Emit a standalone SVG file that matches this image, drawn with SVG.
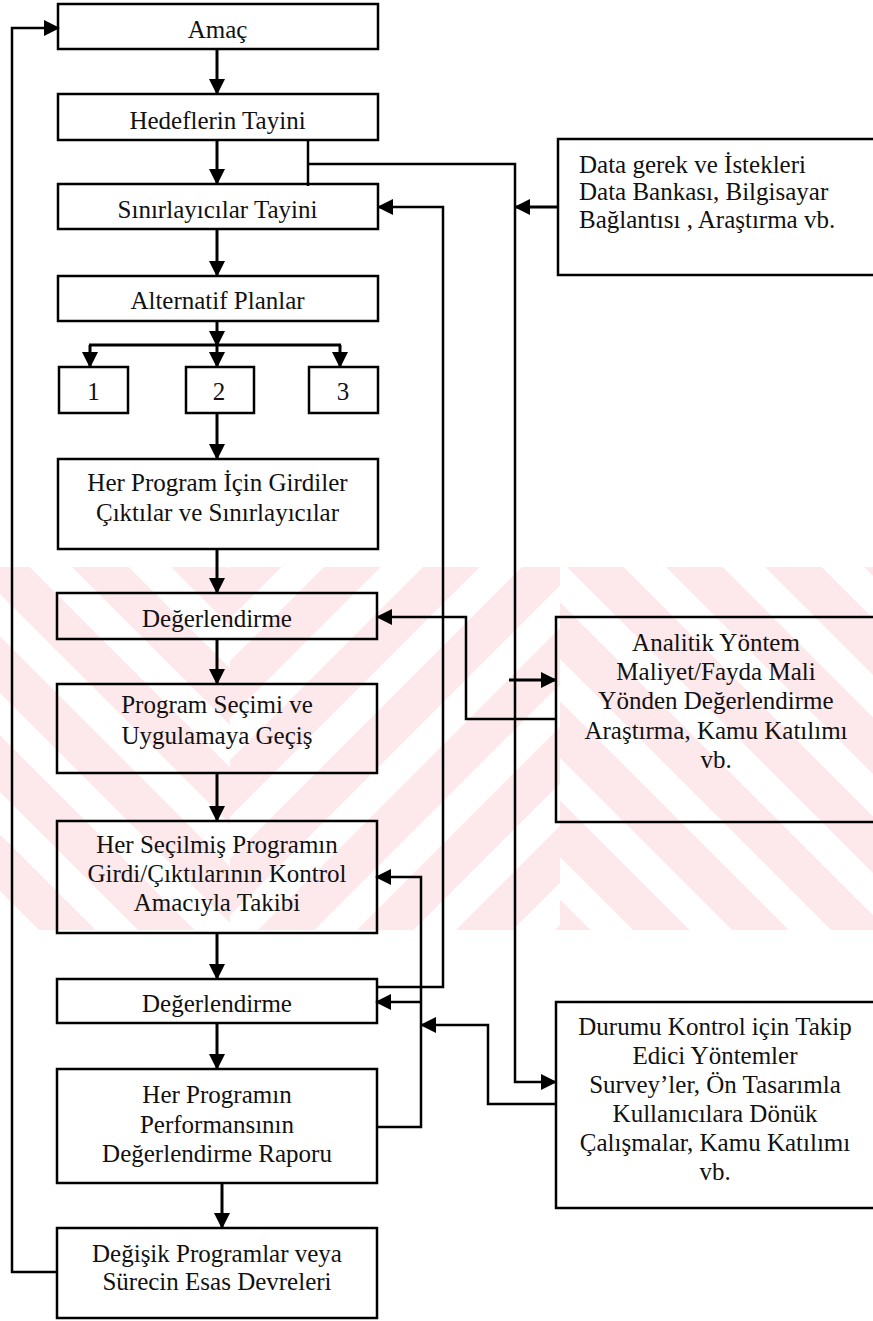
<svg xmlns="http://www.w3.org/2000/svg" width="873" height="1321" viewBox="0 0 873 1321">
<style>
.box{fill:none;stroke:#000;stroke-width:2.5}
.t{font-family:"Liberation Serif","Times New Roman",Tinos,serif;font-size:25px;fill:#111;text-anchor:middle}
.tl{text-anchor:start}
.c{fill:none;stroke:#000;stroke-width:3}
.c2{fill:none;stroke:#000;stroke-width:2.5}
.wm{stroke:none}
</style>
<defs>
<marker id="ah" markerUnits="userSpaceOnUse" markerWidth="16" markerHeight="16" refX="15" refY="8" orient="auto"><path d="M0,0 L16,8 L0,16 Z" fill="#000"/></marker>
<pattern id="wmA" patternUnits="userSpaceOnUse" width="70" height="70" patternTransform="rotate(45)"><rect width="40" height="70" fill="#fde8ec"/></pattern>
<pattern id="wmB" patternUnits="userSpaceOnUse" width="70" height="70" patternTransform="rotate(-45)"><rect width="40" height="70" fill="#fde8ec"/></pattern>
</defs>
<rect width="873" height="1321" fill="#fff"/>
<g id="watermark">
<rect class="wm" x="0" y="567" width="230" height="363" fill="url(#wmB)"/>
<rect class="wm" x="230" y="567" width="330" height="363" fill="url(#wmA)"/>
<rect class="wm" x="560" y="567" width="313" height="363" fill="url(#wmB)"/>
</g>
<g id="connectors">
<path class="c" d="M217,49 V94" marker-end="url(#ah)"/>
<path class="c" d="M217,140 V184" marker-end="url(#ah)"/>
<path class="c" d="M217,229 V276" marker-end="url(#ah)"/>
<path class="c" d="M217,321 V346" marker-end="url(#ah)"/>
<path class="c" d="M89,345 H341"/>
<path class="c" d="M90,345 V367" marker-end="url(#ah)"/>
<path class="c" d="M217,345 V367" marker-end="url(#ah)"/>
<path class="c" d="M340,345 V367" marker-end="url(#ah)"/>
<path class="c" d="M217,413 V459" marker-end="url(#ah)"/>
<path class="c" d="M217,549 V593" marker-end="url(#ah)"/>
<path class="c" d="M217,639 V684" marker-end="url(#ah)"/>
<path class="c" d="M217,773 V821" marker-end="url(#ah)"/>
<path class="c" d="M217,933 V979" marker-end="url(#ah)"/>
<path class="c" d="M217,1023 V1069" marker-end="url(#ah)"/>
<path class="c" d="M222,1183 V1228" marker-end="url(#ah)"/>
<path class="c2" d="M57,1272 H12 V28 H59" marker-end="url(#ah)"/>
<path class="c2" d="M377,987 H443 V207 H378" marker-end="url(#ah)"/>
<path class="c2" d="M308,140 V186"/>
<path class="c2" d="M308,164 H515 V1082 H556" marker-end="url(#ah)"/>
<path class="c" d="M509,680 H556" marker-end="url(#ah)"/>
<path class="c" d="M558,207 H515" marker-end="url(#ah)"/>
<path class="c2" d="M556,719 H466 V617 H377" marker-end="url(#ah)"/>
<path class="c2" d="M377,1127 H421 V877 H376" marker-end="url(#ah)"/>
<path class="c2" d="M421,1002 H376" marker-end="url(#ah)"/>
<path class="c2" d="M556,1104 H488 V1025 H421" marker-end="url(#ah)"/>
</g>
<g id="amac"><rect class="box" x="58" y="4" width="320" height="45"/><text class="t" x="217.5" y="38">Amaç</text></g>
<g id="hedef"><rect class="box" x="58" y="94" width="320" height="46"/><text class="t" x="217.5" y="129">Hedeflerin Tayini</text></g>
<g id="sinir"><rect class="box" x="58" y="184" width="320" height="45"/><text class="t" x="217.5" y="218">Sınırlayıcılar Tayini</text></g>
<g id="alternatif"><rect class="box" x="58" y="276" width="320" height="45"/><text class="t" x="217.5" y="309">Alternatif Planlar</text></g>
<g id="p1"><rect class="box" x="59" y="367" width="69" height="46"/><text class="t" x="93.5" y="400">1</text></g>
<g id="p2"><rect class="box" x="186" y="367" width="68" height="46"/><text class="t" x="219" y="400">2</text></g>
<g id="p3"><rect class="box" x="309" y="367" width="69" height="46"/><text class="t" x="343" y="400">3</text></g>
<g id="girdi"><rect class="box" x="58" y="459" width="320" height="90"/><text class="t" x="217.5" y="491">Her Program İçin Girdiler</text><text class="t" x="217.5" y="521">Çıktılar ve Sınırlayıcılar</text></g>
<g id="deg1"><rect class="box" x="57" y="593" width="320" height="46"/><text class="t" x="217" y="627">Değerlendirme</text></g>
<g id="secim"><rect class="box" x="57" y="684" width="320" height="89"/><text class="t" x="217" y="713">Program Seçimi ve</text><text class="t" x="217" y="744">Uygulamaya Geçiş</text></g>
<g id="takip"><rect class="box" x="57" y="821" width="320" height="112"/><text class="t" x="217" y="853">Her Seçilmiş Programın</text><text class="t" x="217" y="882">Girdi/Çıktılarının Kontrol</text><text class="t" x="217" y="911">Amacıyla Takibi</text></g>
<g id="deg2"><rect class="box" x="57" y="979" width="320" height="44"/><text class="t" x="217" y="1012">Değerlendirme</text></g>
<g id="rapor"><rect class="box" x="57" y="1069" width="320" height="114"/><text class="t" x="217" y="1103">Her Programın</text><text class="t" x="217" y="1133">Performansının</text><text class="t" x="217" y="1162">Değerlendirme Raporu</text></g>
<g id="degisik"><rect class="box" x="57" y="1228" width="320" height="90"/><text class="t" x="217" y="1262">Değişik Programlar veya</text><text class="t" x="217" y="1290">Sürecin Esas Devreleri</text></g>
<g id="data"><rect class="box" x="558" y="139" width="330" height="136"/><text class="t tl" x="579" y="173">Data gerek ve İstekleri</text><text class="t tl" x="579" y="200">Data Bankası, Bilgisayar</text><text class="t tl" x="579" y="228">Bağlantısı , Araştırma vb.</text></g>
<g id="analitik"><rect class="box" x="556" y="617" width="330" height="205"/><text class="t" x="716" y="651">Analitik Yöntem</text><text class="t" x="716" y="680">Maliyet/Fayda Mali</text><text class="t" x="716" y="709">Yönden Değerlendirme</text><text class="t" x="716" y="739">Araştırma, Kamu Katılımı</text><text class="t" x="716" y="768">vb.</text></g>
<g id="durumu"><rect class="box" x="556" y="1002" width="330" height="206"/><text class="t" x="715" y="1035">Durumu Kontrol için Takip</text><text class="t" x="715" y="1064">Edici Yöntemler</text><text class="t" x="715" y="1093">Survey’ler, Ön Tasarımla</text><text class="t" x="715" y="1122">Kullanıcılara Dönük</text><text class="t" x="715" y="1151">Çalışmalar, Kamu Katılımı</text><text class="t" x="715" y="1180">vb.</text></g>
</svg>
